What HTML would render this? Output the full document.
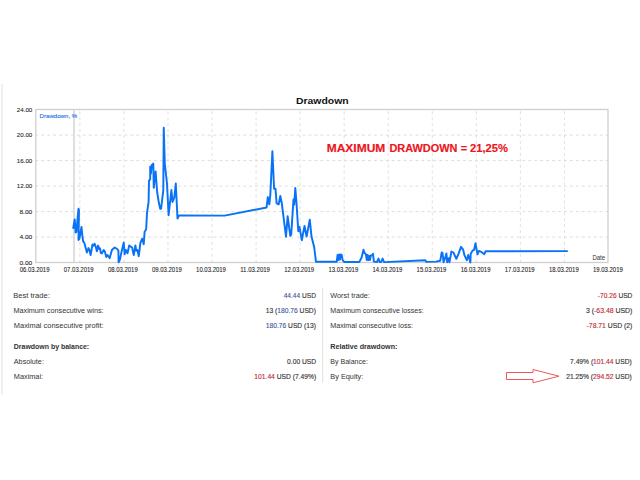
<!DOCTYPE html>
<html><head><meta charset="utf-8">
<style>
html,body{margin:0;padding:0;background:#fff;}
body{width:640px;height:480px;overflow:hidden;position:relative;font-family:"Liberation Sans",sans-serif;}
svg{position:absolute;left:0;top:0;}
svg text{font-family:"Liberation Sans",sans-serif;}
.tb text,.tb tspan{fill:currentColor;stroke:currentColor;stroke-width:0;}
.tb text.v,.tb text.v tspan{stroke-width:0.14px;}
</style></head><body>
<svg width="640" height="480" viewBox="0 0 640 480">
<rect x="1.3" y="84" width="1.5" height="311" fill="#ececec"/>
<text x="296" y="103.6" font-size="9.7" font-weight="bold" fill="#111" textLength="52.6" lengthAdjust="spacingAndGlyphs">Drawdown</text>
<g stroke="#dedede" stroke-width="1" stroke-dasharray="3 2.94">
<line x1="35.3" y1="135.10" x2="608" y2="135.10"/>
<line x1="35.3" y1="160.60" x2="608" y2="160.60"/>
<line x1="35.3" y1="186.10" x2="608" y2="186.10"/>
<line x1="35.3" y1="211.60" x2="608" y2="211.60"/>
<line x1="35.3" y1="237.10" x2="608" y2="237.10"/>
</g>
<g stroke="#e0e0e0" stroke-width="1" stroke-dasharray="3 2.94">
<line x1="79.87" y1="111.2" x2="79.87" y2="262"/>
<line x1="123.92" y1="111.2" x2="123.92" y2="262"/>
<line x1="167.97" y1="111.2" x2="167.97" y2="262"/>
<line x1="212.02" y1="111.2" x2="212.02" y2="262"/>
<line x1="256.07" y1="111.2" x2="256.07" y2="262"/>
<line x1="300.12" y1="111.2" x2="300.12" y2="262"/>
<line x1="344.17" y1="111.2" x2="344.17" y2="262"/>
<line x1="388.22" y1="111.2" x2="388.22" y2="262"/>
<line x1="432.27" y1="111.2" x2="432.27" y2="262"/>
<line x1="476.32" y1="111.2" x2="476.32" y2="262"/>
<line x1="520.37" y1="111.2" x2="520.37" y2="262"/>
<line x1="564.42" y1="111.2" x2="564.42" y2="262"/>
</g>
<rect x="35.8" y="109.5" width="572.2" height="153" fill="none" stroke="#cfcfcf" stroke-width="1.3"/>
<rect x="73.2" y="110" width="1.6" height="152" fill="#d8d8d8"/>
<g fill="#222" stroke="#222" stroke-width="0.08">
<text x="32.3" y="111.90" font-size="6.2" text-anchor="end" textLength="15.50" lengthAdjust="spacingAndGlyphs">24.00</text>
<text x="32.3" y="137.40" font-size="6.2" text-anchor="end" textLength="15.50" lengthAdjust="spacingAndGlyphs">20.00</text>
<text x="32.3" y="162.90" font-size="6.2" text-anchor="end" textLength="15.50" lengthAdjust="spacingAndGlyphs">16.00</text>
<text x="32.3" y="188.40" font-size="6.2" text-anchor="end" textLength="15.50" lengthAdjust="spacingAndGlyphs">12.00</text>
<text x="32.3" y="213.90" font-size="6.2" text-anchor="end" textLength="12.90" lengthAdjust="spacingAndGlyphs">8.00</text>
<text x="32.3" y="239.40" font-size="6.2" text-anchor="end" textLength="12.90" lengthAdjust="spacingAndGlyphs">4.00</text>
<text x="32.3" y="264.90" font-size="6.2" text-anchor="end" textLength="12.90" lengthAdjust="spacingAndGlyphs">0.00</text>
</g>
<g fill="#222" stroke="#222" stroke-width="0.08">
<text x="19.70" y="272.3" font-size="6.3" textLength="29.8" lengthAdjust="spacingAndGlyphs">06.03.2019</text>
<text x="63.80" y="272.3" font-size="6.3" textLength="29.8" lengthAdjust="spacingAndGlyphs">07.03.2019</text>
<text x="107.90" y="272.3" font-size="6.3" textLength="29.8" lengthAdjust="spacingAndGlyphs">08.03.2019</text>
<text x="152.00" y="272.3" font-size="6.3" textLength="29.8" lengthAdjust="spacingAndGlyphs">09.03.2019</text>
<text x="196.10" y="272.3" font-size="6.3" textLength="29.8" lengthAdjust="spacingAndGlyphs">10.03.2019</text>
<text x="240.20" y="272.3" font-size="6.3" textLength="29.8" lengthAdjust="spacingAndGlyphs">11.03.2019</text>
<text x="284.30" y="272.3" font-size="6.3" textLength="29.8" lengthAdjust="spacingAndGlyphs">12.03.2019</text>
<text x="328.40" y="272.3" font-size="6.3" textLength="29.8" lengthAdjust="spacingAndGlyphs">13.03.2019</text>
<text x="372.50" y="272.3" font-size="6.3" textLength="29.8" lengthAdjust="spacingAndGlyphs">14.03.2019</text>
<text x="416.60" y="272.3" font-size="6.3" textLength="29.8" lengthAdjust="spacingAndGlyphs">15.03.2019</text>
<text x="460.70" y="272.3" font-size="6.3" textLength="29.8" lengthAdjust="spacingAndGlyphs">16.03.2019</text>
<text x="504.80" y="272.3" font-size="6.3" textLength="29.8" lengthAdjust="spacingAndGlyphs">17.03.2019</text>
<text x="548.90" y="272.3" font-size="6.3" textLength="29.8" lengthAdjust="spacingAndGlyphs">18.03.2019</text>
<text x="593.00" y="272.3" font-size="6.3" textLength="29.8" lengthAdjust="spacingAndGlyphs">19.03.2019</text>
</g>
<text x="39.6" y="118.1" font-size="5.9" fill="#1f70e6" stroke="#1f70e6" stroke-width="0.12" textLength="37.6" lengthAdjust="spacingAndGlyphs">Drawdown, %</text>
<text x="592.4" y="260.1" font-size="6.3" fill="#333" textLength="12.7" lengthAdjust="spacingAndGlyphs">Date</text>
<polyline fill="none" stroke="#0a72f6" stroke-width="1.95" stroke-linejoin="round" points="73.1,228.75 74.75,219.4 75.6,232.5 76.5,231.9 77.6,218 78.5,208.75 79,210 78.5,240 79.4,238.75 81.5,226.9 82.25,235 83.1,241.25 84.4,243.1 85.6,247.5 86.9,252.5 88.5,248.1 89.4,250 90.6,255 92.5,244.4 93.75,245.6 94.6,243.75 95.9,247.2 96.9,251.25 98.1,245.6 99.1,249 100,248.4 100.9,253.1 101.9,253.4 103.75,250 105,251.9 106.25,256.9 107.5,255 109.7,258.1 111.9,250 114.7,247.5 117.2,249 118.4,250.6 118.6,262.2 120,259.4 121.25,253.1 123.75,242.5 124.6,254.2 125.8,250 127.5,253.3 129.2,245.4 130.8,246.7 132.1,247.5 133.75,255 135.4,245.4 136.25,250.8 137.5,250 138.75,256.25 140.4,242.9 142.1,238.75 143.75,244.2 144.6,231.7 145.8,230 146.25,228 147,212.8 148.6,201.9 149,180.8 150.2,179.2 150.2,166.7 150.9,173.75 151.7,165.2 153.3,163.6 153.75,187.8 155.6,171.4 157.2,192.5 158.9,203.1 160.3,208.9 161.1,208.6 163.3,190 163.75,127.7 164.8,163.75 167,183.5 168.6,215.2 171.4,190 172.5,202 174.25,197.7 175.8,183.5 177.5,218.5 179,215.4 224.6,215.6 266.6,207.5 267.8,197.1 269.3,204.4 270.3,195 272.4,151.25 274.1,188.75 275.5,188.75 276.6,203.3 278.7,204.4 280.3,196 281.8,203.3 283.9,220 286,236.7 287.65,216.3 290.3,235.75 291.2,234.9 293.5,199.5 294.2,204.8 295.3,188 296.5,203 298.3,231.3 299.5,226.9 301.8,240.2 304.5,226 306.6,236.6 309.8,219.8 311.5,236.6 314.2,247.25 316,261.8 336.7,261.8 337.6,255 338.5,260 339.2,254.4 340,259.5 340.8,254.4 341.7,255 342.6,260 344,261.9 359.4,261.9 361.6,257.5 363.5,249.8 364.6,253.1 365.9,254.2 366.8,260 367.6,255 368.4,260 369.2,256 370,260 370.8,255.5 372,255.3 373,253.9 373.9,261.6 376.9,262 378.5,258.6 379.6,262 381.2,262 382.6,258.6 384,262 384.8,262.1 425.3,260.3 426.4,261.9 436,261.65 440.2,260.8 441.7,252.5 442.5,252.8 443.55,262.2 445.1,258.2 446.4,253.5 447.2,262.2 448.5,258.2 449.5,262.2 451.4,251.5 453.4,252.5 456.3,258.75 458.4,254.1 461,246.8 463.1,249.6 464.5,255.4 466.8,260.2 468.2,254.9 470.4,262.5 470.7,253.75 472.7,250.4 474.1,249.8 475.5,243.3 477.5,254.3 478.9,250.9 481.1,251.8 484.2,254.3 485.6,251.2 567.8,251.1"/>
<g font-size="10.6" font-weight="bold" fill="#ee1420" stroke="#ee1420" stroke-width="0.15">
<text x="326.7" y="151.9" textLength="58.6" lengthAdjust="spacingAndGlyphs">MAXIMUM</text>
<text x="389.4" y="151.9" textLength="68" lengthAdjust="spacingAndGlyphs">DRAWDOWN</text>
<text x="460.8" y="151.9" textLength="6.4" lengthAdjust="spacingAndGlyphs">=</text>
<text x="470" y="151.9" textLength="38" lengthAdjust="spacingAndGlyphs">21,25%</text>
</g>
<rect x="322" y="288" width="1.2" height="95" fill="#e6e6e6"/>
<g class="tb" style="color:#333">
<text x="13.35" y="298.40" font-size="7.80" textLength="36.45" lengthAdjust="spacingAndGlyphs">Best trade:</text>
<text x="13.50" y="313.20" font-size="7.80" textLength="90.10" lengthAdjust="spacingAndGlyphs">Maximum consecutive wins:</text>
<text x="13.80" y="328.20" font-size="7.80" textLength="89.80" lengthAdjust="spacingAndGlyphs">Maximal consecutive profit:</text>
<text x="13.80" y="349.40" font-size="7.60" font-weight="bold" textLength="75.40" lengthAdjust="spacingAndGlyphs">Drawdown by balance:</text>
<text x="13.80" y="364.10" font-size="7.80" textLength="30.10" lengthAdjust="spacingAndGlyphs">Absolute:</text>
<text x="13.80" y="378.80" font-size="7.80" textLength="29.30" lengthAdjust="spacingAndGlyphs">Maximal:</text>
<text x="330.30" y="298.40" font-size="7.80" textLength="39.60" lengthAdjust="spacingAndGlyphs">Worst trade:</text>
<text x="330.30" y="313.20" font-size="7.80" textLength="93.40" lengthAdjust="spacingAndGlyphs">Maximum consecutive losses:</text>
<text x="330.30" y="328.20" font-size="7.80" textLength="82.70" lengthAdjust="spacingAndGlyphs">Maximal consecutive loss:</text>
<text x="330.30" y="349.40" font-size="7.60" font-weight="bold" textLength="67.10" lengthAdjust="spacingAndGlyphs">Relative drawdown:</text>
<text x="330.30" y="364.10" font-size="7.80" textLength="37.60" lengthAdjust="spacingAndGlyphs">By Balance:</text>
<text x="330.30" y="378.80" font-size="7.80" textLength="33.00" lengthAdjust="spacingAndGlyphs">By Equity:</text>
<text x="283.70" y="298.40" font-size="7.60" class="v" textLength="32.20" lengthAdjust="spacingAndGlyphs"><tspan style="color:#3f58a0">44.44</tspan> USD</text>
<text x="265.80" y="313.20" font-size="7.60" class="v" textLength="50.10" lengthAdjust="spacingAndGlyphs">13 (<tspan style="color:#3f58a0">180.76</tspan> USD)</text>
<text x="265.80" y="328.20" font-size="7.60" class="v" textLength="50.10" lengthAdjust="spacingAndGlyphs"><tspan style="color:#3f58a0">180.76</tspan> USD (13)</text>
<text x="287.10" y="364.10" font-size="7.60" class="v" textLength="29.10" lengthAdjust="spacingAndGlyphs">0.00 USD</text>
<text x="254.35" y="378.80" font-size="7.60" class="v" textLength="61.85" lengthAdjust="spacingAndGlyphs"><tspan style="color:#c02834">101.44</tspan> USD (7.49%)</text>
<text x="597.80" y="298.40" font-size="7.60" class="v" textLength="34.60" lengthAdjust="spacingAndGlyphs"><tspan style="color:#c02834">-70.26</tspan> USD</text>
<text x="586.00" y="313.20" font-size="7.60" class="v" textLength="46.40" lengthAdjust="spacingAndGlyphs">3 (<tspan style="color:#c02834">-63.48</tspan> USD)</text>
<text x="586.60" y="328.20" font-size="7.60" class="v" textLength="45.80" lengthAdjust="spacingAndGlyphs"><tspan style="color:#c02834">-78.71</tspan> USD (2)</text>
<text x="570.10" y="364.10" font-size="7.60" class="v" textLength="61.60" lengthAdjust="spacingAndGlyphs">7.49% (<tspan style="color:#c02834">101.44</tspan> USD)</text>
<text x="566.20" y="378.80" font-size="7.60" class="v" textLength="65.50" lengthAdjust="spacingAndGlyphs">21.25% (<tspan style="color:#c02834">294.52</tspan> USD)</text>
</g>
<path d="M506.5,372.5 L533,372.5 L533,369.5 L559,376.2 L533,382.8 L533,379.5 L506.5,379.5 Z" fill="none" stroke="#ec4f56" stroke-width="0.95"/>
</svg>
</body></html>
